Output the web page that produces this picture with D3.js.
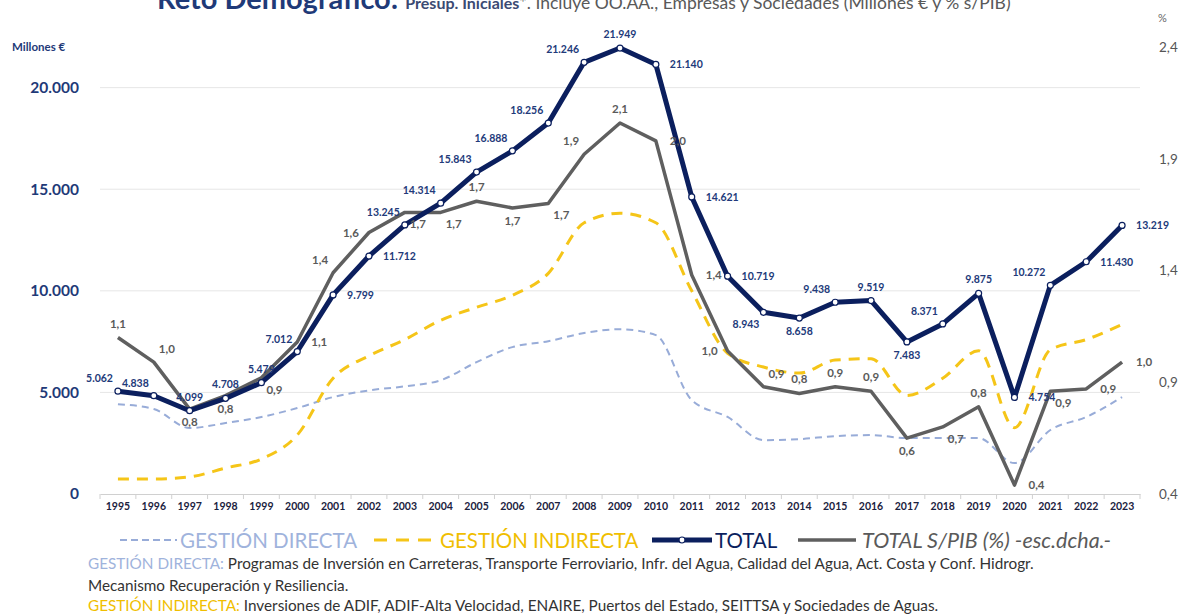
<!DOCTYPE html>
<html>
  <head>
    <script src="https://d3js.org/d3.v7.min.js" charset="utf-8"></script>
    <meta charset="UTF-8">
    <title>Reto Demográfico</title>
    <style>
      body { margin: 0; background: #fff; }
      text { font-family: Lato, "Open Sans", sans-serif; }
    </style>
  </head>
  <body>
    <svg class="chart"></svg>
    <script type="text/javascript">

     var width = 1180,
         height = 616;

     // data
     var years = d3.range(1995, 2024);
     var total = [5062, 4838, 4099, 4708, 5479, 7012, 9799, 11712, 13245, 14314,
                  15843, 16888, 18256, 21246, 21949, 21140, 14621, 10719, 8943, 8658,
                  9438, 9519, 7483, 8371, 9875, 4754, 10272, 11430, 13219];
     var directa = [4420, 4180, 3250, 3490, 3790, 4230, 4770, 5100, 5300, 5600,
                    6490, 7230, 7520, 7920, 8110, 7820, 4620, 3790, 2650, 2700,
                    2850, 2900, 2750, 2760, 2750, 1520, 3150, 3790, 4770];
     var indirecta = [740, 740, 840, 1280, 1720, 2900, 5700, 6800, 7600, 8550,
                      9190, 9780, 10860, 13350, 13820, 13350, 10000, 6930, 6250, 5950,
                      6590, 6660, 4850, 5700, 7050, 3260, 7100, 7600, 8350];
     var pib = [1.10, 0.99, 0.78, 0.84, 0.92, 1.08, 1.39, 1.57, 1.66, 1.66,
                1.71, 1.68, 1.70, 1.92, 2.06, 1.98, 1.38, 1.04, 0.88, 0.85,
                0.88, 0.86, 0.65, 0.70, 0.79, 0.44, 0.86, 0.87, 0.99];
     var pibLabels = ["1,1", "1,0", "0,8", "0,8", "0,9", "1,1", "1,4", "1,6", "1,7", "1,7",
                      "1,7", "1,7", "1,7", "1,9", "2,1", "2,0", "1,4", "1,0", "0,9", "0,8",
                      "0,9", "0,9", "0,6", "0,7", "0,8", "0,4", "0,9", "0,9", "1,0"];
     var leftTicks = [0, 5000, 10000, 15000, 20000];
     var rightTicks = [0.4, 0.9, 1.4, 1.9, 2.4];

     // where each value label sits relative to its point
     var totalPlace = ["tl", "tl", "t", "t", "t", "tl", "r", "r", "tl", "tl",
                       "tl", "tl", "tl", "tl", "t", "r", "r", "r", "bl", "b",
                       "tl", "t", "b", "tl", "t", "r", "tl", "r", "r"];
     var pibPlace = ["t", "tr", "b", "b", "br", "r", "tl", "l", "br", "br",
                     "t", "b", "br", "tl", "t", "r", "r", "l", "tr", "t",
                     "t", "t", "b", "br", "t", "r", "br", "r", "r"];

     var navy = "#0b1f5e",
         grey = "#5f5f5f",
         lightBlue = "#98acd8",
         yellow = "#f5c518";

     var chart = d3.select(".chart")
                   .attr("width", width)
                   .attr("height", height);

     var x = d3.scaleBand().domain(years).range([100, 1140]);
     var cx = function(i) { return x(years[i]) + x.bandwidth() / 2; };
     var yL = d3.scaleLinear().domain([0, 22000]).range([494, 47]);
     var yR = d3.scaleLinear().domain([0.4, 2.4]).range([494, 47]);

     var fmtL = d3.formatLocale({decimal: ",", thousands: ".", grouping: [3], currency: ["", ""]}).format(",d");

     // title (cut off at the top of the frame, as in the source)
     var title = chart.append("text").attr("x", 157).attr("y", 9);
     title.append("tspan").attr("font-size", 29).attr("font-weight", 700)
          .attr("fill", "#1f3a78").text("Reto Demográfico: ");
     title.append("tspan").attr("font-size", 16).attr("font-weight", 700)
          .attr("fill", "#3b4a73").text("Presup. Iniciales");
     title.append("tspan").attr("font-size", 17.5).attr("fill", "#595959")
          .text("*. Incluye OO.AA., Empresas y Sociedades (Millones € y % s/PIB)");

     // gridlines
     chart.append("g").selectAll("line")
          .data(leftTicks.slice(1))
          .enter().append("line")
          .attr("x1", 100).attr("x2", 1140)
          .attr("y1", function(d) { return yL(d); })
          .attr("y2", function(d) { return yL(d); })
          .attr("stroke", "#e6e6e6").attr("stroke-width", 1);

     // x axis
     var xAxis = chart.append("g")
                      .attr("transform", "translate(0," + yL(0) + ")")
                      .call(d3.axisBottom(x).tickSize(0).tickPadding(9));
     xAxis.select(".domain").attr("stroke", "#d0d0d0");
     xAxis.selectAll("text").attr("font-size", 10.5).attr("font-weight", 700)
          .attr("fill", "#1b2240").style("font-family", "Lato, sans-serif");
     xAxis.append("g").selectAll("line")
          .data(d3.range(years.length + 1))
          .enter().append("line")
          .attr("x1", function(d) { return 100 + d * x.bandwidth(); })
          .attr("x2", function(d) { return 100 + d * x.bandwidth(); })
          .attr("y1", 0).attr("y2", 5)
          .attr("stroke", "#d0d0d0");

     // left axis
     var yAxisL = chart.append("g")
                       .attr("transform", "translate(82,0)")
                       .call(d3.axisLeft(yL).tickValues(leftTicks).tickSize(0).tickFormat(fmtL));
     yAxisL.select(".domain").remove();
     yAxisL.selectAll("text").attr("font-size", 15.5).attr("font-weight", 700)
           .attr("fill", "#1f3a78").style("font-family", "Lato, sans-serif");
     chart.append("text").attr("x", 12).attr("y", 51)
          .attr("font-size", 11.5).attr("font-weight", 700).attr("fill", "#1f3a78")
          .text("Millones €");

     // right axis
     var yAxisR = chart.append("g")
                       .attr("transform", "translate(1156,0)")
                       .call(d3.axisRight(yR).tickValues(rightTicks).tickSize(0)
                               .tickFormat(function(d) { return d3.format(".1f")(d).replace(".", ","); }));
     yAxisR.select(".domain").remove();
     yAxisR.selectAll("text").attr("font-size", 13.5).attr("fill", "#555")
           .style("font-family", "Lato, sans-serif");
     chart.append("text").attr("x", 1158).attr("y", 22)
          .attr("font-size", 11).attr("fill", "#666").text("%");

     var idx = d3.range(years.length);

     var lineL = function(arr) {
         return d3.line().x(function(i) { return cx(i); })
                         .y(function(i) { return yL(arr[i]); })
                         .curve(d3.curveMonotoneX)(idx);
     };

     // series
     chart.append("path").attr("d", lineL(directa))
          .attr("fill", "none").attr("stroke", lightBlue)
          .attr("stroke-width", 2).attr("stroke-dasharray", "7,5");

     chart.append("path").attr("d", lineL(indirecta))
          .attr("fill", "none").attr("stroke", yellow)
          .attr("stroke-width", 3).attr("stroke-dasharray", "11,8");

     chart.append("path")
          .attr("d", d3.line().x(function(i) { return cx(i); })
                               .y(function(i) { return yR(pib[i]); })(idx))
          .attr("fill", "none").attr("stroke", grey)
          .attr("stroke-width", 3.5).attr("stroke-linejoin", "round");

     chart.append("path")
          .attr("d", d3.line().x(function(i) { return cx(i); })
                               .y(function(i) { return yL(total[i]); })(idx))
          .attr("fill", "none").attr("stroke", navy)
          .attr("stroke-width", 5).attr("stroke-linejoin", "round");

     chart.append("g").selectAll("circle")
          .data(idx)
          .enter().append("circle")
          .attr("cx", function(i) { return cx(i); })
          .attr("cy", function(i) { return yL(total[i]); })
          .attr("r", 3)
          .attr("fill", "#fff").attr("stroke", navy).attr("stroke-width", 1.2);

     // value labels
     var place = {
         t:  [0, -10, "middle"], b:  [0, 17, "middle"],
         r:  [14, 4, "start"],   l:  [-10, 4, "end"],
         tl: [-5, -9, "end"],    tr: [5, -9, "start"],
         bl: [-4, 16, "end"],    br: [5, 16, "start"]
     };

     chart.append("g").selectAll("text")
          .data(idx)
          .enter().append("text")
          .attr("x", function(i) { return cx(i) + place[totalPlace[i]][0]; })
          .attr("y", function(i) { return yL(total[i]) + place[totalPlace[i]][1]; })
          .attr("text-anchor", function(i) { return place[totalPlace[i]][2]; })
          .attr("font-size", 10.5).attr("font-weight", 700).attr("fill", "#223a7a")
          .text(function(i) { return fmtL(total[i]); });

     chart.append("g").selectAll("text")
          .data(idx)
          .enter().append("text")
          .attr("x", function(i) { return cx(i) + place[pibPlace[i]][0]; })
          .attr("y", function(i) { return yR(pib[i]) + place[pibPlace[i]][1]; })
          .attr("text-anchor", function(i) { return place[pibPlace[i]][2]; })
          .attr("font-size", 11.5).attr("font-weight", 700).attr("fill", "#5a5a5a")
          .text(function(i) { return pibLabels[i]; });

     // legend
     var legend = chart.append("g").attr("transform", "translate(0,540)");
     legend.append("line").attr("x1", 120).attr("x2", 177).attr("y1", 0).attr("y2", 0)
           .attr("stroke", lightBlue).attr("stroke-width", 2).attr("stroke-dasharray", "7,4");
     legend.append("text").attr("x", 180).attr("y", 7.5).attr("font-size", 20.5)
           .attr("fill", "#9fb3dc").text("GESTIÓN DIRECTA");
     legend.append("line").attr("x1", 374).attr("x2", 436).attr("y1", 0).attr("y2", 0)
           .attr("stroke", yellow).attr("stroke-width", 3).attr("stroke-dasharray", "13,9");
     legend.append("text").attr("x", 440).attr("y", 7.5).attr("font-size", 20.5)
           .attr("fill", "#f0be00").text("GESTIÓN INDIRECTA");
     legend.append("line").attr("x1", 652).attr("x2", 712).attr("y1", 0).attr("y2", 0)
           .attr("stroke", navy).attr("stroke-width", 5);
     legend.append("circle").attr("cx", 682).attr("cy", 0).attr("r", 3)
           .attr("fill", "#fff").attr("stroke", navy).attr("stroke-width", 1.2);
     legend.append("text").attr("x", 715).attr("y", 7.5).attr("font-size", 20.5)
           .attr("fill", navy).text("TOTAL");
     legend.append("line").attr("x1", 798).attr("x2", 856).attr("y1", 0).attr("y2", 0)
           .attr("stroke", grey).attr("stroke-width", 3.5);
     legend.append("text").attr("x", 862).attr("y", 7.5).attr("font-size", 21.5)
           .attr("font-style", "italic").attr("fill", "#5a5a5a").text("TOTAL S/PIB (%) -esc.dcha.-");

     // notes
     var n1 = chart.append("text").attr("x", 88).attr("y", 569).attr("font-size", 15.3);
     n1.append("tspan").attr("fill", "#9fb3dc").text("GESTIÓN DIRECTA: ");
     n1.append("tspan").attr("fill", "#333")
       .text("Programas de Inversión en Carreteras, Transporte Ferroviario, Infr. del Agua, Calidad del Agua, Act. Costa y Conf. Hidrogr.");
     chart.append("text").attr("x", 88).attr("y", 591).attr("font-size", 15.3)
          .attr("fill", "#333").text("Mecanismo Recuperación y Resiliencia.");
     var n2 = chart.append("text").attr("x", 88).attr("y", 611).attr("font-size", 15.3);
     n2.append("tspan").attr("fill", "#f0be00").text("GESTIÓN INDIRECTA: ");
     n2.append("tspan").attr("fill", "#333")
       .text("Inversiones de ADIF, ADIF-Alta Velocidad, ENAIRE, Puertos del Estado, SEITTSA y Sociedades de Aguas.");

    </script>
  </body>
</html>
